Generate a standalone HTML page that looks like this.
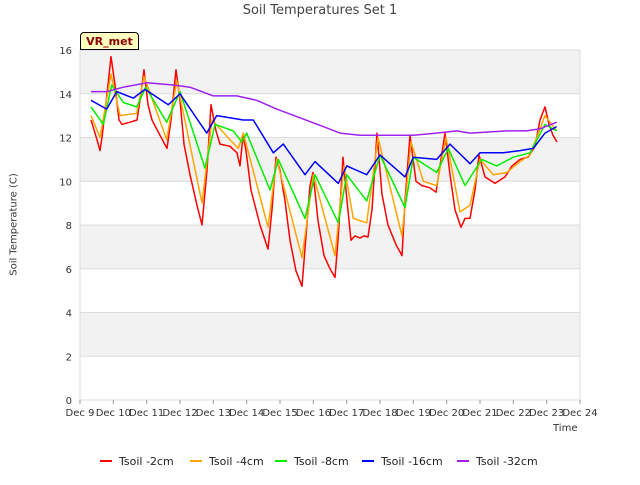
<!DOCTYPE html>
<html><head><meta charset="utf-8"><style>
body{margin:0;background:#fff;font-family:"Liberation Sans","DejaVu Sans",sans-serif}
svg text{font-family:"DejaVu Sans","Liberation Sans",sans-serif}
</style></head><body>
<svg id="c" width="640" height="480"></svg>
<script>
const dayLabels=["Dec 9","Dec 10","Dec 11","Dec 12","Dec 13","Dec 14","Dec 15","Dec 16","Dec 17","Dec 18","Dec 19","Dec 20","Dec 21","Dec 22","Dec 23","Dec 24"];
const yTicks=[0,2,4,6,8,10,12,14,16];
const seriesNames=["Tsoil -2cm","Tsoil -4cm","Tsoil -8cm","Tsoil -16cm","Tsoil -32cm"];
const seriesColors=["#ff0000","#ffa500","#00ee00","#0000ff","#a020f0"];
const redDays=[0.33,0.51,0.6,0.66,0.84,0.93,1.05,1.17,1.26,1.5,1.71,1.8,1.92,2.04,2.16,2.4,2.61,2.73,2.88,3.0,3.12,3.3,3.51,3.66,3.81,3.93,4.08,4.2,4.5,4.71,4.8,4.89,4.98,5.13,5.4,5.64,5.76,5.88,6.0,6.15,6.3,6.48,6.66,6.78,6.9,6.99,7.14,7.32,7.5,7.65,7.74,7.89,8.01,8.13,8.25,8.4,8.52,8.64,8.76,8.91,9.06,9.24,9.48,9.66,9.75,9.9,10.08,10.26,10.5,10.68,10.83,10.95,11.1,11.25,11.43,11.55,11.7,11.85,11.97,12.15,12.45,12.75,12.96,13.2,13.44,13.65,13.8,13.95,14.07,14.19,14.31];
const redVals=[12.8,11.9,11.4,12,14.4,15.7,14.4,12.8,12.6,12.7,12.8,13.7,15.1,13.5,12.8,12.1,11.5,12.8,15.1,13.7,11.7,10.3,8.9,8.0,10.5,13.5,12.3,11.7,11.6,11.3,10.7,12.1,11.4,9.6,8.0,6.9,8.7,11.1,10.5,9.1,7.3,5.9,5.2,7.5,9.8,10.4,8.2,6.6,6.0,5.6,7.3,11.1,9.1,7.3,7.5,7.4,7.5,7.45,8.7,12.2,9.4,8.0,7.1,6.6,9.1,12.1,10.0,9.8,9.7,9.5,11.0,12.2,10.3,8.7,7.9,8.3,8.3,9.6,11.2,10.2,9.9,10.2,10.7,11.0,11.1,11.6,12.8,13.4,12.6,12.1,11.8];
const orangeDays=[0.33,0.6,0.93,1.2,1.7,1.92,2.6,2.9,3.66,3.96,4.5,4.75,4.9,5.64,5.9,6.66,7.0,7.65,7.92,8.2,8.6,8.94,9.66,9.93,10.3,10.7,10.98,11.4,11.7,12.0,12.4,12.8,13.2,13.5,13.95,14.3];
const orangeVals=[13.0,12.0,14.9,13.0,13.1,14.8,11.9,14.6,9.0,12.8,11.9,11.5,12.2,7.9,11.0,6.5,10.3,6.6,10.7,8.3,8.1,12.0,7.5,11.8,10.0,9.8,12.0,8.6,8.9,11.0,10.3,10.4,10.9,11.2,13.0,12.3];
const greenDays=[0.33,0.7,0.95,1.3,1.7,1.97,2.6,3.0,3.75,4.05,4.6,4.85,5.0,5.7,5.95,6.75,7.05,7.75,8.0,8.6,9.0,9.75,10.0,10.7,11.05,11.55,12.05,12.5,13.0,13.5,13.95,14.3];
const greenVals=[13.4,12.6,14.4,13.6,13.4,14.3,12.7,14.1,10.6,12.6,12.3,11.8,12.2,9.6,11.0,8.3,10.3,8.1,10.3,9.1,11.2,8.8,11.1,10.4,11.5,9.8,11.0,10.7,11.1,11.3,12.6,12.3];
const blueDays=[0.33,0.8,1.1,1.6,1.95,2.65,3.0,3.8,4.1,4.9,5.2,5.8,6.1,6.75,7.05,7.75,8.0,8.6,9.0,9.75,10.0,10.7,11.1,11.7,12.0,12.7,13.2,13.6,13.95,14.3];
const blueVals=[13.7,13.3,14.1,13.8,14.2,13.5,14.0,12.2,13.0,12.8,12.8,11.3,11.7,10.3,10.9,9.9,10.7,10.3,11.2,10.2,11.1,11.0,11.7,10.8,11.3,11.3,11.4,11.5,12.2,12.5];
const purpleDays=[0.33,0.8,1.3,2.0,2.8,3.3,4.0,4.7,5.3,5.9,6.6,7.3,7.8,8.4,9.5,10.0,10.7,11.3,11.7,12.8,13.4,13.8,14.3];
const purpleVals=[14.1,14.1,14.3,14.5,14.4,14.3,13.9,13.9,13.7,13.3,12.9,12.5,12.2,12.1,12.1,12.1,12.2,12.3,12.2,12.3,12.3,12.4,12.7];
const allDays=[redDays,orangeDays,greenDays,blueDays,purpleDays];
const allVals=[redVals,orangeVals,greenVals,blueVals,purpleVals];

const NS="http://www.w3.org/2000/svg",svg=document.getElementById('c');
const L=80,R=580,T=50,B=400;
const xs=d=>L+(R-L)*d/15, ys=v=>B-(B-T)*v/16;
function mk(t,a,p){const e=document.createElementNS(NS,t);for(const k in a)e.setAttribute(k,a[k]);(p||svg).appendChild(e);return e;}
for(let i=0;i<8;i++){
 const b=mk('rect',{x:L,y:ys(2*i+2),width:R-L,height:ys(0)-ys(2),fill:(i%2==1)?'#f2f2f2':'#ffffff'});
 
 
}
yTicks.forEach(v=>{
 const g=mk('line',{x1:L,x2:R,y1:ys(v),y2:ys(v),stroke:'#dcdcdc','stroke-width':1});
 
 
 const t=mk('text',{x:L-8,y:ys(v)+4,'text-anchor':'end','font-size':10,fill:'#333'});t.textContent=v;
 
 
});
mk('rect',{x:L,y:T,width:R-L,height:B-T,fill:'none',stroke:'#dcdcdc'});
dayLabels.forEach((s,i)=>{
 const tk=mk('line',{x1:xs(i),x2:xs(i),y1:B,y2:B+4,stroke:'#999'});
 
 
 const t=mk('text',{x:xs(i),y:B+16,'text-anchor':'middle','font-size':10,fill:'#333'});t.textContent=s;
 
 
});
allDays.forEach((ds,k)=>{
 const pts=ds.map((d,i)=>xs(d).toFixed(1)+','+ys(allVals[k][i]).toFixed(1)).join(' ');
 const p=mk('polyline',{points:pts,fill:'none',stroke:seriesColors[k],'stroke-width':1.5,'stroke-linejoin':'round'});
 
 
});
const lx=[100,190,275,362,457];
seriesNames.forEach((n,k)=>{
 const g=mk('g',{});
 
 
 mk('line',{x1:lx[k],x2:lx[k]+12,y1:461,y2:461,stroke:seriesColors[k],'stroke-width':2},g);
 const t=mk('text',{x:lx[k]+19,y:465,'font-size':11,fill:'#222'},g);t.textContent=n;
});
</script>
<div style="position:absolute;left:0;top:0;width:640px;height:480px;pointer-events:none">
<div style="position:absolute;left:0;width:640px;top:3px;text-align:center;font:13px 'DejaVu Sans','Liberation Sans',sans-serif;color:#444">Soil Temperatures Set 1</div>
<div style="position:absolute;left:-46px;top:219px;width:120px;text-align:center;transform:rotate(-90deg);font:10px 'DejaVu Sans','Liberation Sans',sans-serif;color:#333">Soil Temperature (C)</div>
<div style="position:absolute;left:553px;top:423px;font:10px 'DejaVu Sans','Liberation Sans',sans-serif;color:#333">Time</div>
<div style="position:absolute;left:80px;top:32px;width:57px;height:16px;background:#ffffc0;border:1px solid #000;border-radius:4px 4px 0 0;font:bold 11px 'DejaVu Sans','Liberation Sans',sans-serif;color:#8b0000;text-align:center;line-height:17px">VR_met</div>
</div>
</body></html>
